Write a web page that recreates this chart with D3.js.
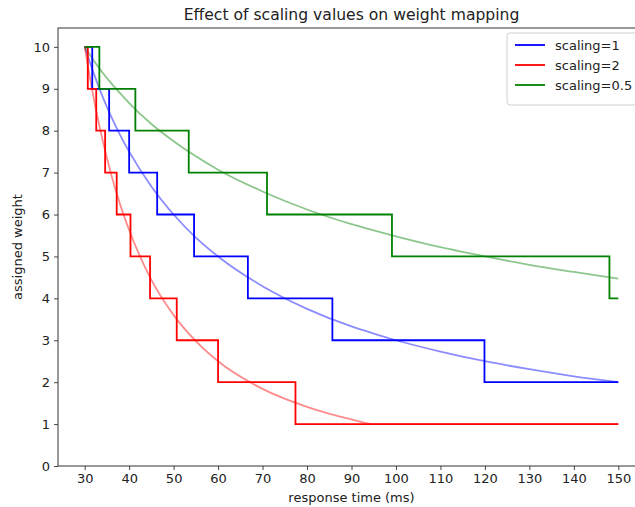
<!DOCTYPE html>
<html>
<head>
<meta charset="utf-8">
<script src="https://cdn.jsdelivr.net/npm/d3@7"></script>
<style>
  html, body { margin: 0; padding: 0; background: #fff; }
  svg { display: block; font-family: "DejaVu Sans", sans-serif; }
</style>
</head>
<body>
<svg id="chart" width="635" height="507"></svg>
<script>
// Response times (ms) at which the continuous mappings are sampled
const curveTimes = [30, 32, 34, 36, 38, 40, 45, 50, 55, 60, 70, 80, 90, 95, 100, 110, 120, 130, 140, 150];

// Continuous weight curves
const curveScaling1   = [10, 9.38, 8.82, 8.33, 7.89, 7.5, 6.67, 6.0, 5.45, 5.0, 4.29, 3.75, 3.33, 3.16, 3.0, 2.73, 2.5, 2.31, 2.14, 2.0];
const curveScaling2   = [10, 8.79, 7.79, 6.94, 6.23, 5.63, 4.44, 3.6, 2.98, 2.5, 1.84, 1.41, 1.11, 1.0, 1.0, 1.0, 1.0, 1.0, 1.0, 1.0];
const curveScaling05  = [10, 9.68, 9.39, 9.13, 8.89, 8.66, 8.16, 7.75, 7.39, 7.07, 6.55, 6.12, 5.77, 5.62, 5.48, 5.22, 5.0, 4.8, 4.63, 4.47];

// Assigned (integer) weights: each weight holds from its start time until the next start time
const stepStarts1  = [30, 31.7, 35.5, 40.0, 46.3, 54.6, 66.7, 85.7, 119.9, 150];
const stepWeights1 = [10, 9, 8, 7, 6, 5, 4, 3, 2, 2];

const stepStarts2  = [30, 30.7, 32.6, 34.6, 37.2, 40.3, 44.7, 50.7, 60.0, 77.4, 150];
const stepWeights2 = [10, 9, 8, 7, 6, 5, 4, 3, 2, 1, 1];

const stepStarts05  = [30, 33.3, 41.4, 53.4, 71.0, 99.1, 148.0, 150];
const stepWeights05 = [10, 9, 8, 7, 6, 5, 4, 4];

const seriesNames  = ["scaling=1", "scaling=2", "scaling=0.5"];
const seriesColors = ["#0000ff", "#ff0000", "#008000"];

const xTicks = d3.range(30, 151, 10);
const yTicks = d3.range(0, 11, 1);

const svg = d3.select("#chart");

const plot = { left: 58, right: 645, top: 28, bottom: 466 };
const baseFont = "13px";

const x = d3.scaleLinear().domain([24, 156]).range([plot.left, plot.right]);
const y = d3.scaleLinear().domain([0, 10.45]).range([plot.bottom, plot.top]);

const curves = [curveScaling1, curveScaling2, curveScaling05];
const steps = [
  { t: stepStarts1, w: stepWeights1 },
  { t: stepStarts2, w: stepWeights2 },
  { t: stepStarts05, w: stepWeights05 }
];

const smoothLine = d3.line()
  .x(d => x(d[0]))
  .y(d => y(d[1]))
  .curve(d3.curveMonotoneX);

const stepLine = d3.line()
  .x(d => x(d[0]))
  .y(d => y(d[1]))
  .curve(d3.curveStepAfter);

const marks = svg.append("g");

curves.forEach((vals, i) => {
  marks.append("path")
    .attr("d", smoothLine(curveTimes.map((t, k) => [t, vals[k]])))
    .attr("fill", "none")
    .attr("stroke", seriesColors[i])
    .attr("stroke-opacity", 0.45)
    .attr("stroke-width", 1.8);
});

steps.forEach((s, i) => {
  marks.append("path")
    .attr("d", stepLine(s.t.map((t, k) => [t, s.w[k]])))
    .attr("fill", "none")
    .attr("stroke", seriesColors[i])
    .attr("stroke-width", 1.8)
    .attr("stroke-linejoin", "miter");
});

// Axes
const xAxis = svg.append("g")
  .attr("transform", `translate(0,${plot.bottom})`)
  .call(d3.axisBottom(x).tickValues(xTicks).tickSize(4).tickSizeOuter(0).tickPadding(4));
const yAxis = svg.append("g")
  .attr("transform", `translate(${plot.left},0)`)
  .call(d3.axisLeft(y).tickValues(yTicks).tickSize(4).tickSizeOuter(0).tickPadding(4));

[xAxis, yAxis].forEach(a => {
  a.select(".domain").remove();
  a.selectAll("line").attr("stroke", "#333").attr("stroke-width", 0.9);
  a.selectAll("text").attr("fill", "#222").style("font-size", baseFont).style("font-family", "DejaVu Sans");
});

// Frame
svg.append("rect")
  .attr("x", plot.left)
  .attr("y", plot.top)
  .attr("width", plot.right - plot.left)
  .attr("height", plot.bottom - plot.top)
  .attr("fill", "none")
  .attr("stroke", "#333")
  .attr("stroke-width", 1);

// Titles
svg.append("text")
  .attr("x", (plot.left + plot.right) / 2)
  .attr("y", 20)
  .attr("text-anchor", "middle")
  .attr("fill", "#222")
  .style("font-size", "15.6px")
  .text("Effect of scaling values on weight mapping");

svg.append("text")
  .attr("x", (plot.left + plot.right) / 2)
  .attr("y", 502)
  .attr("text-anchor", "middle")
  .attr("fill", "#222")
  .style("font-size", baseFont)
  .text("response time (ms)");

svg.append("text")
  .attr("transform", `translate(22,${(plot.top + plot.bottom) / 2}) rotate(-90)`)
  .attr("text-anchor", "middle")
  .attr("fill", "#222")
  .style("font-size", baseFont)
  .text("assigned weight");

// Legend
const legend = svg.append("g").attr("transform", "translate(507,33)");
legend.append("rect")
  .attr("width", 140)
  .attr("height", 72)
  .attr("rx", 3)
  .attr("fill", "#fff")
  .attr("fill-opacity", 0.85)
  .attr("stroke", "#d0d0d0");

seriesNames.forEach((name, i) => {
  const g = legend.append("g").attr("transform", `translate(0,${12 + i * 20})`);
  g.append("line")
    .attr("x1", 8).attr("x2", 38)
    .attr("stroke", seriesColors[i])
    .attr("stroke-width", 1.8);
  g.append("text")
    .attr("x", 48)
    .attr("dy", "0.35em")
    .attr("fill", "#222")
    .style("font-size", baseFont)
    .text(name);
});
</script>
</body>
</html>
